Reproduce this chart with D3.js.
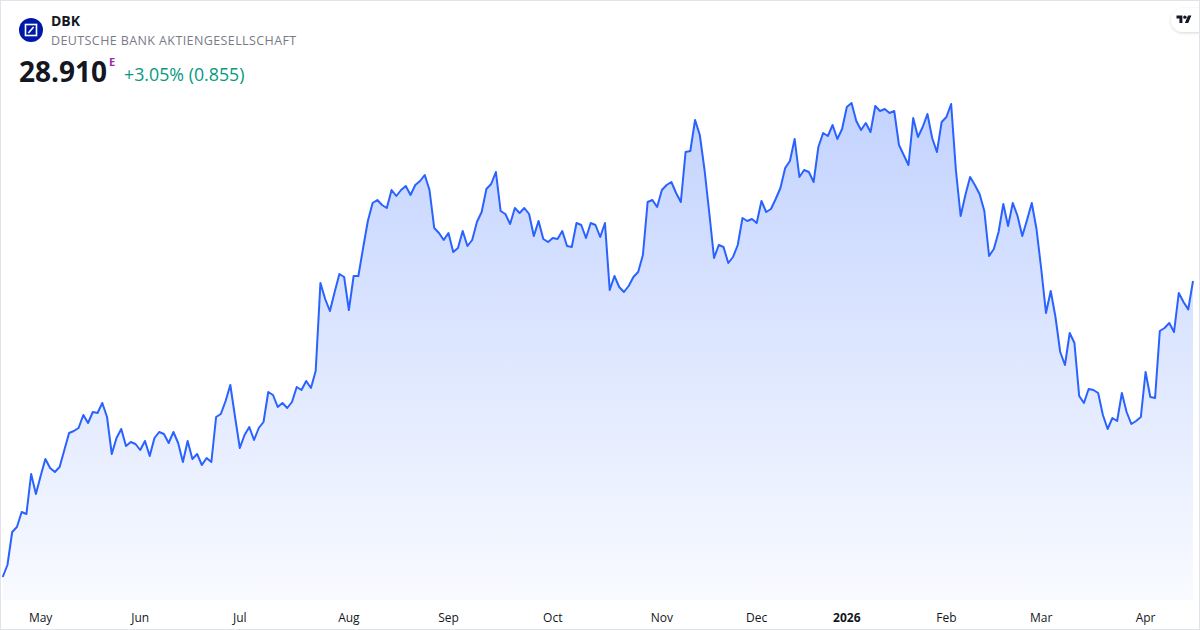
<!DOCTYPE html>
<html>
<head>
<meta charset="utf-8">
<script src="https://cdn.jsdelivr.net/npm/d3@7/dist/d3.min.js"></script>
<style>
  html, body { margin: 0; padding: 0; background: #fff; }
  svg { display: block; font-family: "Open Sans", sans-serif; }
</style>
</head>
<body>
<svg id="chart" width="1200" height="630"></svg>
<script>
// header texts
const symbol = "DBK";
const company = "DEUTSCHE BANK AKTIENGESELLSCHAFT";
const lastPrice = "28.910";
const changeText = "+3.05% (0.855)";

// daily closes, 22 Apr 2025 .. 17 Apr 2026
const prices = [
  20.03, 20.39, 21.38, 21.53, 21.98, 21.92, 23.12, 22.52, 23.06, 23.57,
  23.30, 23.18, 23.33, 23.84, 24.35, 24.41, 24.50, 24.89, 24.65, 24.98,
  24.95, 25.25, 24.83, 23.72, 24.20, 24.47, 23.96, 24.08, 24.02, 23.84,
  24.11, 23.66, 24.20, 24.38, 24.32, 24.05, 24.38, 24.05, 23.48, 24.11,
  23.57, 23.72, 23.39, 23.60, 23.48, 24.83, 24.92, 25.31, 25.79, 24.83,
  23.90, 24.29, 24.53, 24.14, 24.50, 24.68, 25.58, 25.49, 25.13, 25.25,
  25.10, 25.28, 25.73, 25.64, 25.91, 25.70, 26.21, 28.85, 28.37, 28.01,
  28.58, 29.12, 29.03, 28.04, 29.06, 29.06, 29.90, 30.71, 31.25, 31.34,
  31.19, 31.10, 31.64, 31.46, 31.64, 31.76, 31.49, 31.79, 31.91, 32.09,
  31.64, 30.50, 30.35, 30.14, 30.35, 29.78, 29.90, 30.41, 29.96, 30.14,
  30.68, 30.98, 31.67, 31.82, 32.18, 31.01, 30.92, 30.62, 31.10, 30.95,
  31.10, 30.92, 30.26, 30.71, 30.17, 30.08, 30.20, 30.17, 30.41, 29.96,
  29.93, 30.65, 30.59, 30.20, 30.65, 30.59, 30.23, 30.65, 28.64, 29.06,
  28.73, 28.58, 28.76, 29.03, 29.18, 29.69, 31.28, 31.34, 31.13, 31.64,
  31.79, 31.88, 31.55, 31.28, 32.78, 32.81, 33.74, 33.29, 32.24, 30.95,
  29.60, 29.99, 29.93, 29.45, 29.63, 29.99, 30.80, 30.71, 30.77, 30.65,
  31.31, 30.98, 31.07, 31.37, 31.70, 32.30, 32.51, 33.17, 32.03, 32.24,
  32.18, 31.88, 32.93, 33.35, 33.26, 33.59, 33.17, 33.47, 34.13, 34.25,
  33.71, 33.44, 33.65, 33.38, 34.16, 34.01, 34.07, 33.95, 34.01, 32.99,
  32.69, 32.39, 33.80, 33.23, 33.53, 33.92, 33.20, 32.78, 33.68, 33.83,
  34.22, 32.24, 30.86, 31.49, 32.03, 31.79, 31.52, 31.01, 29.66, 29.87,
  30.38, 31.22, 30.56, 31.25, 30.86, 30.26, 30.74, 31.25, 30.47, 29.27,
  27.95, 28.61, 27.83, 26.78, 26.39, 27.35, 27.05, 25.46, 25.25, 25.67,
  25.64, 25.55, 24.89, 24.47, 24.80, 24.71, 25.55, 24.98, 24.62, 24.71,
  24.83, 26.18, 25.43, 25.40, 27.41, 27.50, 27.65, 27.38, 28.55, 28.28,
  28.06, 28.91
];

// x axis: label and the trading-day index it sits on
const monthLabels = ["May", "Jun", "Jul", "Aug", "Sep", "Oct", "Nov", "Dec", "2026", "Feb", "Mar", "Apr"];
const monthIndex  = [8, 29, 50, 73, 94, 116, 139, 159, 178, 199, 219, 241];

const width = 1200, height = 630;
const plotBottom = 600;

const svg = d3.select("#chart");

const x = d3.scaleLinear()
    .domain([0, prices.length - 1])
    .range([2.7, 1193]);

const y = d3.scaleLinear()
    .domain([20, 34.4])
    .range([578, 98]);

// gradient fill under the line
const defs = svg.append("defs");
const grad = defs.append("linearGradient")
    .attr("id", "fillGrad")
    .attr("gradientUnits", "userSpaceOnUse")
    .attr("x1", 0).attr("x2", 0)
    .attr("y1", y(d3.max(prices))).attr("y2", plotBottom);
grad.append("stop").attr("offset", 0).attr("stop-color", "#2962ff").attr("stop-opacity", 0.28);
grad.append("stop").attr("offset", 1).attr("stop-color", "#2962ff").attr("stop-opacity", 0.03);

const shadow = defs.append("filter").attr("id", "shadow")
    .attr("x", "-50%").attr("y", "-50%").attr("width", "200%").attr("height", "200%");
shadow.append("feDropShadow")
    .attr("dx", 0).attr("dy", 1).attr("stdDeviation", 1.5)
    .attr("flood-color", "#000").attr("flood-opacity", 0.16);

// background + frame
svg.append("rect")
    .attr("x", 0.5).attr("y", 0.5)
    .attr("width", width - 1).attr("height", height - 1)
    .attr("fill", "#fff")
    .attr("stroke", "#e0e3eb");

//draw area
const area = d3.area()
    .x((d, i) => x(i))
    .y0(plotBottom)
    .y1(d => y(d));

svg.append("path")
    .datum(prices)
    .attr("d", area)
    .attr("fill", "url(#fillGrad)");

//draw line
const line = d3.line()
    .x((d, i) => x(i))
    .y(d => y(d));

svg.append("path")
    .datum(prices)
    .attr("d", line)
    .attr("fill", "none")
    .attr("stroke", "#2962ff")
    .attr("stroke-width", 2)
    .attr("stroke-linejoin", "round");

//draw x axis labels
const xAxis = svg.append("g").attr("class", "x-axis");
xAxis.selectAll("text")
    .data(monthLabels)
    .enter().append("text")
    .attr("x", (d, i) => x(monthIndex[i]))
    .attr("y", 622)
    .attr("text-anchor", "middle")
    .attr("font-size", 12)
    .attr("font-weight", d => d === "2026" ? 700 : 400)
    .attr("fill", "#131722")
    .text(d => d);

//header: logo
const logo = svg.append("g").attr("transform", "translate(31,30)");
logo.append("circle").attr("r", 12).attr("fill", "#0018a8");
logo.append("rect")
    .attr("x", -5.5).attr("y", -5.5).attr("width", 11).attr("height", 11)
    .attr("fill", "none").attr("stroke", "#fff").attr("stroke-width", 1.6);
logo.append("line")
    .attr("x1", -2.6).attr("y1", 3).attr("x2", 2.6).attr("y2", -3)
    .attr("stroke", "#fff").attr("stroke-width", 1.6);

svg.append("text")
    .attr("x", 51).attr("y", 26)
    .attr("font-size", 14).attr("font-weight", 700)
    .attr("fill", "#131722")
    .text(symbol);

svg.append("text")
    .attr("x", 51).attr("y", 45)
    .attr("font-size", 12.5)
    .attr("letter-spacing", 0.4)
    .attr("fill", "#787b86")
    .text(company);

svg.append("text")
    .attr("x", 19).attr("y", 82)
    .attr("font-size", 28).attr("font-weight", 700)
    .attr("fill", "#131722")
    .text(lastPrice);

svg.append("text")
    .attr("x", 109).attr("y", 66)
    .attr("font-size", 11).attr("font-weight", 700)
    .attr("fill", "#9c27b0")
    .text("E");

svg.append("text")
    .attr("x", 124).attr("y", 81)
    .attr("font-size", 17.8)
    .attr("fill", "#089981")
    .text(changeText);

//TradingView badge top right
const badge = svg.append("g");
badge.append("rect")
    .attr("x", 1171).attr("y", 8).attr("width", 44).attr("height", 24).attr("rx", 12)
    .attr("fill", "#fff").attr("filter", "url(#shadow)");
badge.append("path")
    .attr("transform", "translate(1176.5,13.8) scale(0.42)")
    .attr("d", "M14 22H7V11H0V4h14v18zM28 22h-8l7.5-18h8L28 22z")
    .attr("fill", "#131722");
badge.append("circle")
    .attr("cx", 1176.5 + 20 * 0.42).attr("cy", 13.8 + 8 * 0.42).attr("r", 4 * 0.42)
    .attr("fill", "#131722");
// keep the right frame edge on top of the badge
svg.append("line")
    .attr("x1", width - 0.5).attr("x2", width - 0.5)
    .attr("y1", 0).attr("y2", height)
    .attr("stroke", "#e0e3eb");
</script>
</body>
</html>
